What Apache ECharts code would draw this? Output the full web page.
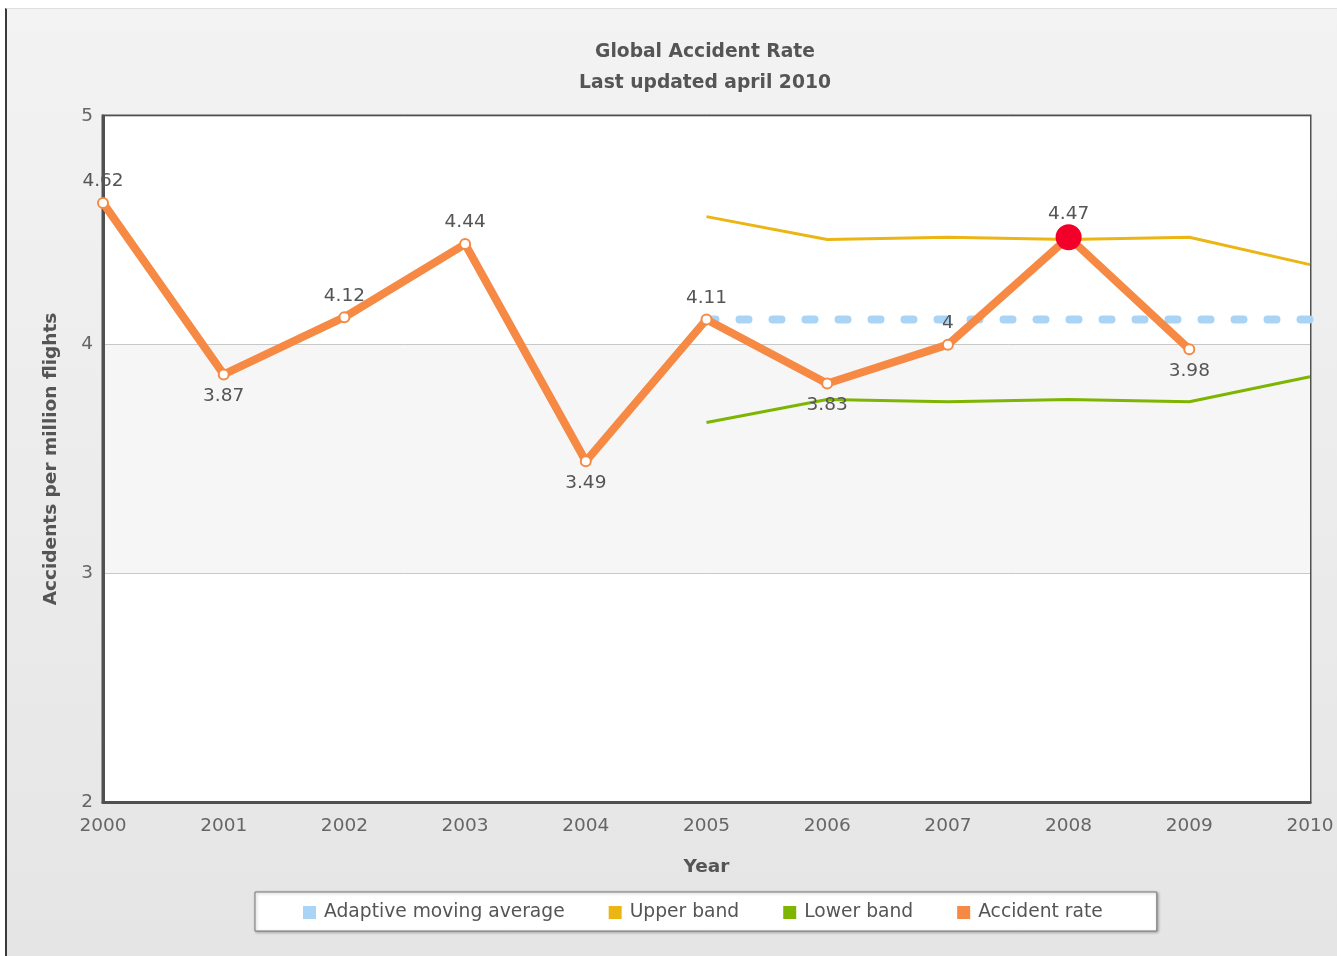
<!DOCTYPE html>
<html>
<head>
<meta charset="utf-8">
<script src="https://cdn.jsdelivr.net/npm/echarts@6/dist/echarts.min.js"></script>
<style>
html,body{margin:0;padding:0;background:#fff;}
#frame{position:absolute;left:5px;top:8px;width:1332px;height:948px;border-left:2px solid #3a3a3a;border-top:1px solid #e0e0e0;background:linear-gradient(#f3f3f3,#e5e5e5);box-sizing:border-box;}
#chart{position:absolute;left:0;top:0;width:1337px;height:956px;}
</style>
</head>
<body>
<div id="frame"></div>
<div id="chart"></div>
<script>
const years = ['2000','2001','2002','2003','2004','2005','2006','2007','2008','2009','2010'];
const accidentRate = [4.62, 3.87, 4.12, 4.44, 3.49, 4.11, 3.83, 4, 4.47, 3.98, null];
const movingAverage = [null, null, null, null, null, 4.11, 4.11, 4.11, 4.11, 4.11, 4.11];
const upperBand = [null, null, null, null, null, 4.56, 4.46, 4.47, 4.46, 4.47, 4.35];
const lowerBand = [null, null, null, null, null, 3.66, 3.76, 3.75, 3.76, 3.75, 3.86];
const highlightYear = '2008';
const yTicks = [2, 3, 4, 5];

const FONT = 'DejaVu Sans';
const ORANGE = '#f68a44';

function labelPos(i) {
  const v = accidentRate[i];
  const prev = i > 0 ? accidentRate[i - 1] : null;
  const next = i < accidentRate.length - 1 ? accidentRate[i + 1] : null;
  const lowerPrev = prev == null || v < prev;
  const lowerNext = next == null || v < next;
  return (lowerPrev && lowerNext) ? 'bottom' : 'top';
}

const rateData = accidentRate.map((v, i) => {
  if (v == null) return null;
  const item = { value: v, label: { position: labelPos(i), distance: 6 } };
  if (years[i] === highlightYear) {
    item.symbolSize = 26;
    item.itemStyle = { color: '#f2002a', borderColor: '#f2002a', borderWidth: 0 };
    item.label.distance = 1;
  }
  return item;
});

const chart = echarts.init(document.getElementById('chart'), null, { renderer: 'canvas' });
chart.setOption({
  backgroundColor: 'transparent',
  animation: false,
  graphic: [
    { type: 'text', x: 705, y: 43, style: { text: 'Global Accident Rate', font: 'bold 18.7px "DejaVu Sans"', fill: '#555', textAlign: 'center' } },
    { type: 'text', x: 705, y: 74, style: { text: 'Last updated april 2010', font: 'bold 18.7px "DejaVu Sans"', fill: '#555', textAlign: 'center' } }
  ],
  legend: {
    left: 255,
    top: 892,
    padding: [11, 54, 9, 48],
    itemGap: 44,
    itemWidth: 13,
    itemHeight: 13,
    icon: 'rect',
    backgroundColor: '#fff',
    borderColor: '#777',
    borderWidth: 1,
    shadowColor: 'rgba(0,0,0,0.3)',
    shadowBlur: 3,
    shadowOffsetX: 1,
    shadowOffsetY: 1,
    textStyle: { fontFamily: FONT, fontSize: 18.7, color: '#555', padding: [0, 0, 0, 3] },
    data: [
      'Adaptive moving average',
      'Upper band',
      'Lower band',
      { name: 'Accident rate', itemStyle: { color: ORANGE, borderWidth: 0 } }
    ]
  },
  grid: {
    left: 103, right: 27, top: 116, bottom: 154,
    show: true, borderColor: '#505050', borderWidth: 3, backgroundColor: '#fff',
    containLabel: false
  },
  xAxis: {
    type: 'category',
    data: years,
    boundaryGap: false,
    name: 'Year',
    nameLocation: 'middle',
    nameGap: 56,
    nameTextStyle: { fontFamily: FONT, fontSize: 18.5, fontWeight: 'bold', color: '#555' },
    axisLine: { show: true, lineStyle: { color: '#505050', width: 3 } },
    axisTick: { show: false },
    axisLabel: { fontFamily: FONT, fontSize: 18.5, color: '#666', margin: 15, showMaxLabel: true, showMinLabel: true, interval: 0 },
    splitLine: { show: false }
  },
  yAxis: {
    type: 'value',
    min: yTicks[0],
    max: yTicks[yTicks.length - 1],
    interval: 1,
    name: 'Accidents per million flights',
    nameLocation: 'middle',
    nameGap: 42,
    nameTextStyle: { fontFamily: FONT, fontSize: 18.5, fontWeight: 'bold', color: '#555' },
    axisLine: { show: true, lineStyle: { color: '#505050', width: 3 } },
    axisTick: { show: false },
    axisLabel: { fontFamily: FONT, fontSize: 18.5, color: '#666', margin: 10 },
    splitLine: { show: true, lineStyle: { color: '#c8c8c8', width: 1 } },
    splitArea: { show: true, areaStyle: { color: ['#ffffff', '#f6f6f6'] } }
  },
  series: [
    {
      name: 'Adaptive moving average',
      type: 'line',
      data: movingAverage,
      symbol: 'none',
      color: '#a9d4f5',
      lineStyle: { color: '#a9d4f5', width: 8, type: [9, 24], cap: 'round' },
      label: {
        show: true, position: 'top', distance: 8,
        fontFamily: FONT, fontSize: 18.5, color: '#555',
        formatter: p => (p.dataIndex === movingAverage.length - 1 ? String(p.value) : '')
      },
      z: 2
    },
    {
      name: 'Upper band',
      type: 'line',
      data: upperBand,
      symbol: 'none',
      color: '#ebb514',
      lineStyle: { color: '#ebb514', width: 3 },
      z: 2
    },
    {
      name: 'Lower band',
      type: 'line',
      data: lowerBand,
      symbol: 'none',
      color: '#7db500',
      lineStyle: { color: '#7db500', width: 3 },
      z: 2
    },
    {
      name: 'Accident rate',
      type: 'line',
      data: rateData,
      symbol: 'circle',
      symbolSize: 10,
      showAllSymbol: true,
      color: ORANGE,
      lineStyle: { color: ORANGE, width: 8 },
      itemStyle: { color: '#fff', borderColor: ORANGE, borderWidth: 2 },
      label: { show: true, fontFamily: FONT, fontSize: 18.5, color: '#555' },
      z: 3
    }
  ]
});
</script>
</body>
</html>
